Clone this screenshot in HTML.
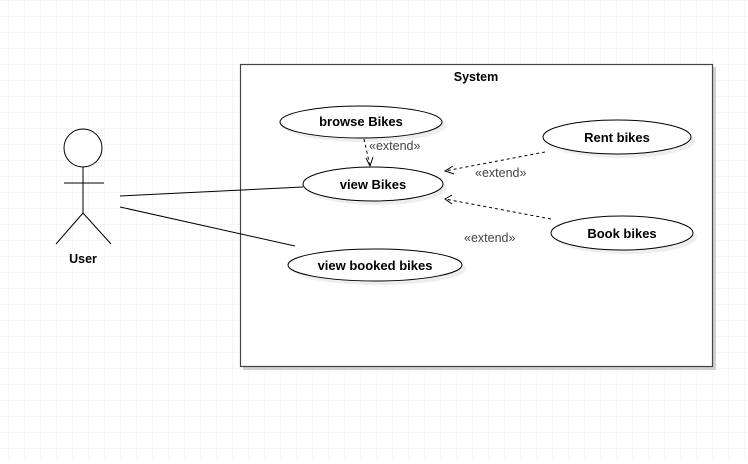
<!DOCTYPE html>
<html><head><style>
html,body{margin:0;padding:0;background:#fff}
</style></head><body>
<svg width="748" height="459" xmlns="http://www.w3.org/2000/svg" font-family="Liberation Sans, Arial, sans-serif">
<defs>
<pattern id="g" width="16" height="16" patternUnits="userSpaceOnUse" x="8" y="0">
<path d="M0 0H16M0 0V16" stroke="#ececec" stroke-width="1" fill="none"/>
</pattern>
</defs>
<rect width="748" height="459" fill="url(#g)"/>
<rect x="243" y="67" width="473" height="303" fill="#d0d0d0"/>
<rect x="240.5" y="64.5" width="472" height="302" fill="#fff" stroke="#444" stroke-width="1.2"/>
<text x="476" y="81" font-size="12.5" font-weight="bold" text-anchor="middle">System</text>
<g stroke="#000" fill="none" stroke-width="1">
<circle cx="83" cy="148" r="19" fill="#fff"/>
<line x1="83" y1="167" x2="83" y2="213"/>
<line x1="64" y1="183" x2="104" y2="183"/>
<line x1="83" y1="213" x2="56" y2="244"/>
<line x1="83" y1="213" x2="111" y2="244"/>
<line x1="120" y1="196" x2="303" y2="187"/>
<line x1="120" y1="207" x2="295" y2="246"/>
</g>
<text x="83" y="263" font-size="12.5" font-weight="bold" text-anchor="middle">User</text>
<g fill="#eee">
<ellipse cx="365" cy="126" rx="81" ry="16"/>
<ellipse cx="377" cy="188" rx="70" ry="17"/>
<ellipse cx="379" cy="269" rx="87" ry="16"/>
<ellipse cx="621" cy="141" rx="74" ry="17"/>
<ellipse cx="626" cy="237" rx="71" ry="17"/>
</g>
<g fill="#fff" stroke="#000" stroke-width="1">
<ellipse cx="361" cy="122" rx="81" ry="16"/>
<ellipse cx="373" cy="184" rx="70" ry="17"/>
<ellipse cx="375" cy="265" rx="87" ry="16"/>
<ellipse cx="617" cy="137" rx="74" ry="17"/>
<ellipse cx="622" cy="233" rx="71" ry="17"/>
</g>
<g font-size="13" font-weight="bold" text-anchor="middle">
<text x="361" y="126">browse Bikes</text>
<text x="373" y="189">view Bikes</text>
<text x="375" y="270">view booked bikes</text>
<text x="617" y="142">Rent bikes</text>
<text x="622" y="238">Book bikes</text>
</g>
<g stroke="#000" fill="none" stroke-width="1" stroke-dasharray="3,3">
<line x1="364" y1="139" x2="370" y2="166"/>
<line x1="545" y1="152" x2="445" y2="171"/>
<line x1="551" y1="219" x2="445" y2="199"/>
</g>
<g stroke="#000" fill="none" stroke-width="1">
<path d="M366 158L370 166L373 157"/>
<path d="M453 166L445 171L454 174"/>
<path d="M452 195L445 199L452 204"/>
</g>
<g font-size="12.5" fill="#444">
<text x="369" y="150">«extend»</text>
<text x="475" y="177">«extend»</text>
<text x="464" y="242">«extend»</text>
</g>
</svg>
</body></html>
